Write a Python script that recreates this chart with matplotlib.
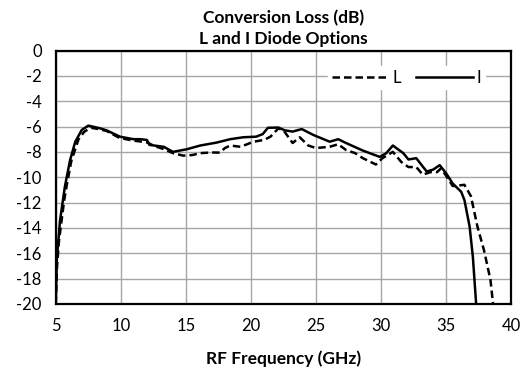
import matplotlib
matplotlib.use('Agg')
import matplotlib.pyplot as plt

plt.rcParams['font.family'] = ['Lato', 'DejaVu Sans']
plt.rcParams['axes.unicode_minus'] = False

# Courbe L (pointillés)
freq_L = [5.0, 5.1, 5.25, 5.45, 5.65, 5.85, 6.2, 6.75, 7.2, 7.7, 8.3, 8.9, 9.9, 10.9, 12.0,
          12.6, 13.2, 14.0, 14.8, 15.5, 16.1, 17.0, 17.6, 18.0, 18.4, 19.2, 20.2, 21.0, 21.5,
          22.1, 22.5, 22.85, 23.2, 23.75, 24.4, 25.0, 26.05, 26.7, 27.3, 28.0, 28.6, 29.6,
          30.1, 30.9, 31.55, 32.1, 32.7, 33.2, 33.8, 34.3, 34.6, 35.0, 35.5, 36.0, 36.4,
          36.9, 37.4, 37.9, 38.4, 38.6]
loss_L = [-20.0, -17.0, -15.0, -13.4, -11.8, -10.6, -8.7, -7.0, -6.4, -6.1, -6.2, -6.35,
          -6.9, -7.1, -7.25, -7.55, -7.75, -8.1, -8.3, -8.25, -8.1, -8.05, -8.06, -7.7,
          -7.5, -7.6, -7.2, -7.06, -6.8, -6.15, -6.3, -6.8, -7.3, -6.85, -7.5, -7.7, -7.6,
          -7.4, -7.85, -8.1, -8.5, -9.0, -8.5, -8.0, -8.8, -9.2, -9.2, -9.8, -9.6, -9.6,
          -9.3, -9.9, -10.7, -10.65, -10.6, -11.5, -13.9, -15.75, -18.1, -20.0]

# Courbe I (trait plein)
freq_I = [5.0, 5.08, 5.33, 5.7, 6.1, 6.5, 7.0, 7.5, 8.4, 8.9, 9.93, 10.96, 11.5, 12.0,
          12.2, 13.3, 14.0, 15.05, 16.1, 17.35, 18.4, 19.4, 20.4, 20.9, 21.3, 22.1, 22.6,
          23.2, 23.9, 24.8, 26.05, 26.7, 27.3, 28.6, 29.9, 30.4, 30.9, 31.7, 32.1, 32.7,
          33.5, 34.0, 34.5, 35.0, 35.5, 36.15, 36.4, 36.8, 37.05, 37.3]
loss_I = [-20.0, -16.5, -13.4, -10.75, -8.65, -7.2, -6.27, -5.93, -6.14, -6.3, -6.8,
          -7.0, -7.0, -7.06, -7.45, -7.6, -8.0, -7.8, -7.5, -7.27, -7.0, -6.85, -6.8,
          -6.6, -6.1, -6.08, -6.3, -6.4, -6.2, -6.67, -7.2, -7.0, -7.3, -7.9, -8.4, -8.1,
          -7.5, -8.1, -8.6, -8.5, -9.55, -9.4, -9.05, -9.7, -10.5, -11.15, -11.8, -13.9,
          -16.3, -20.0]

x_ticks = [5, 10, 15, 20, 25, 30, 35, 40]
y_ticks = list(range(-20, 1, 2))

fig = plt.figure(figsize=(5.26, 3.77), dpi=100)
ax = fig.add_axes([0.106, 0.194, 0.866, 0.672])

ax.plot(freq_L, loss_L, color='black', lw=1.8, linestyle=(0, (3, 1.6)), label='L')
ax.plot(freq_I, loss_I, color='black', lw=1.8, label='I')

ax.set_xlim(5, 40)
ax.set_ylim(-20, 0)
ax.set_xticks(x_ticks)
ax.set_yticks(y_ticks)
ax.grid(True, color='#a6a6a6', lw=1)
ax.set_axisbelow(True)
ax.tick_params(length=0, labelsize=12, pad=10)
for s in ax.spines.values():
    s.set_color('black')
    s.set_linewidth(1.6)

ax.set_title('Conversion Loss (dB)\nL and I Diode Options', fontsize=12.5,
             fontweight='bold', pad=5, linespacing=1.3)
ax.set_xlabel('RF Frequency (GHz)', fontsize=12.5, fontweight='bold', labelpad=12)

leg = ax.legend(loc='upper right', ncol=2, frameon=True, fontsize=12,
                bbox_to_anchor=(0.96, 0.97), handlelength=3.4, handletextpad=0.25,
                columnspacing=0.9, borderpad=0.2, markerfirst=True)
leg.get_frame().set_edgecolor('white')
leg.get_frame().set_facecolor('white')
leg.get_frame().set_alpha(1)

plt.savefig('out.png', dpi=100)
